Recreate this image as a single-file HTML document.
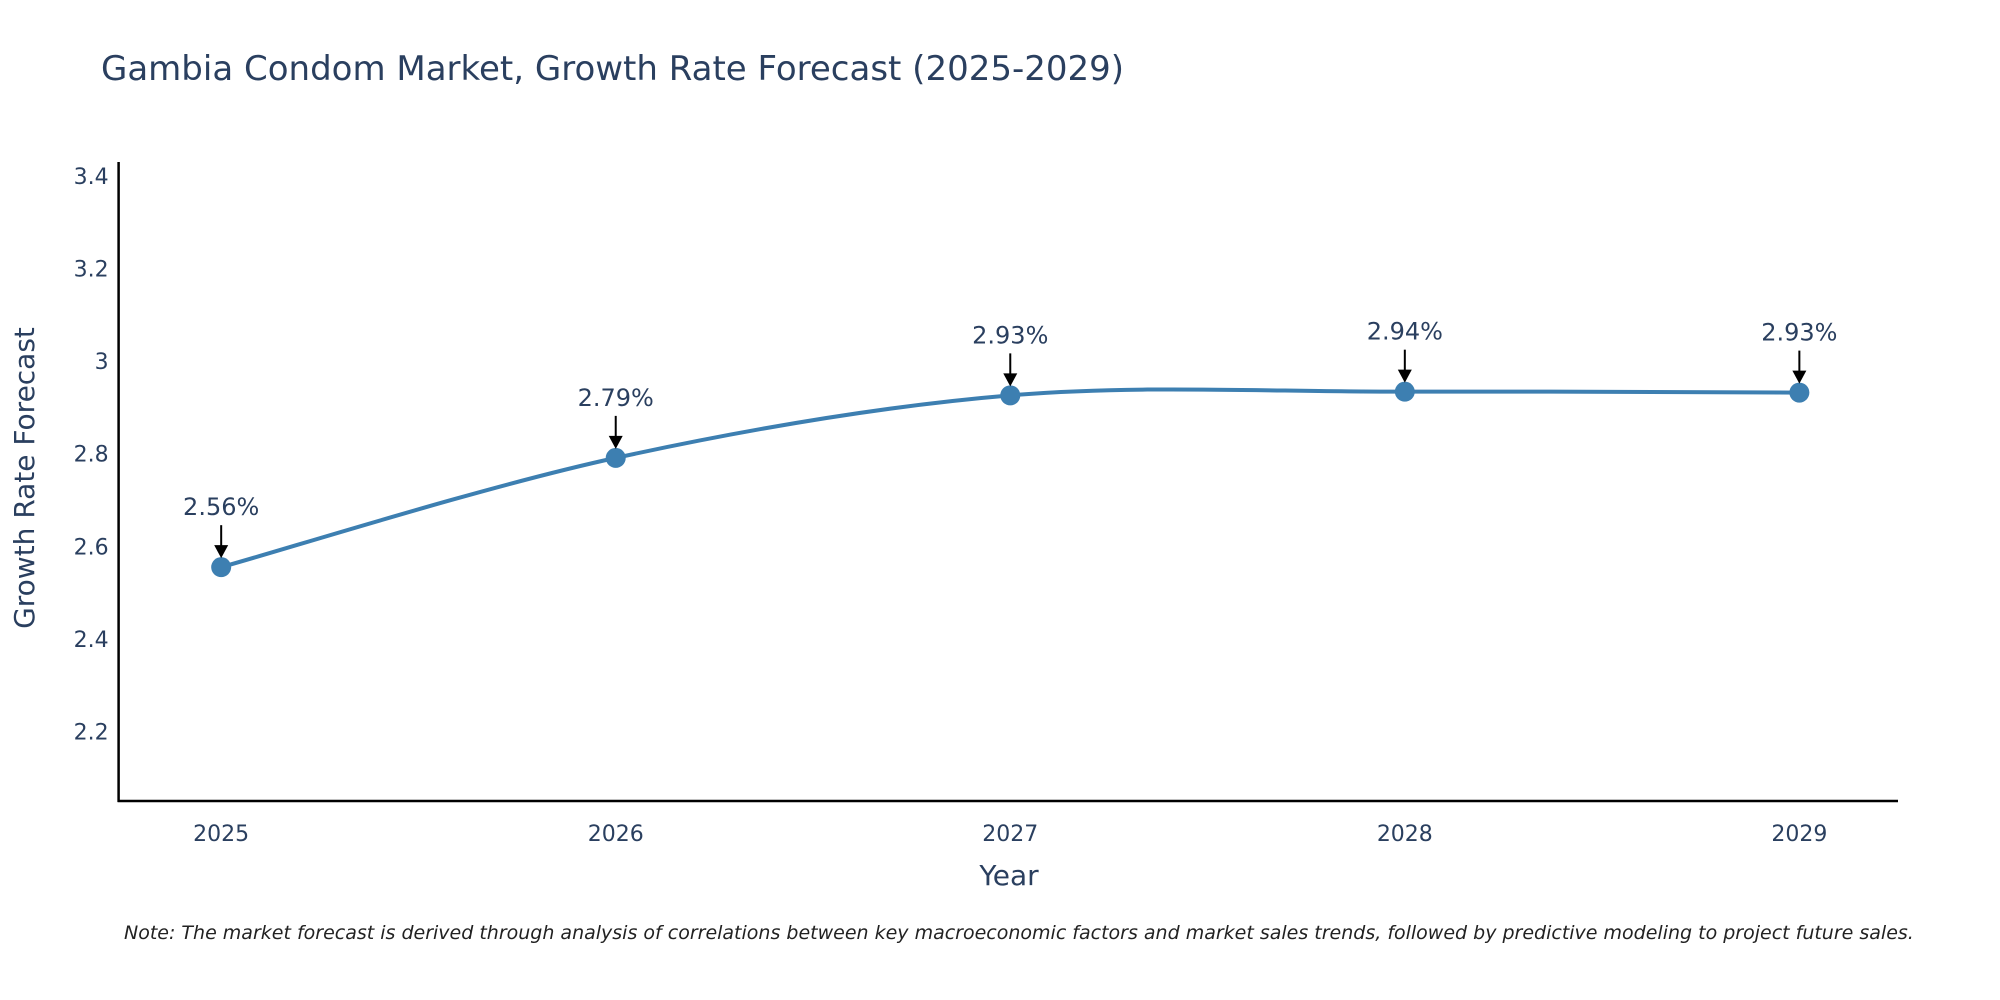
<!DOCTYPE html>
<html><head><meta charset="utf-8"><style>
body{margin:0;background:#fff;}
svg{display:block;font-family:"DejaVu Sans","Liberation Sans",sans-serif;}
</style></head><body>
<svg id="chart" width="2000" height="1000" viewBox="0 0 2000 1000" xmlns="http://www.w3.org/2000/svg">
<text x="101" y="80" font-size="34" fill="#2a3f5f">Gambia Condom Market, Growth Rate Forecast (2025-2029)</text>
<g id="axes"></g>
<g id="series"></g>
<text transform="translate(34,478) rotate(-90)" text-anchor="middle" font-size="28" fill="#2a3f5f">Growth Rate Forecast</text>
<text x="1009" y="885" text-anchor="middle" font-size="28" fill="#2a3f5f">Year</text>
<text x="124" y="939" font-size="19" font-style="italic" fill="#222">Note: The market forecast is derived through analysis of correlations between key macroeconomic factors and market sales trends, followed by predictive modeling to project future sales.</text>
</svg>
<script>
const years = [2025, 2026, 2027, 2028, 2029];
const growth = [2.555, 2.791, 2.926, 2.934, 2.932];
const labels = ["2.56%", "2.79%", "2.93%", "2.94%", "2.93%"];
const yTicks = [2.2, 2.4, 2.6, 2.8, 3, 3.2, 3.4];
const yTickLabels = ["2.2", "2.4", "2.6", "2.8", "3", "3.2", "3.4"];

const NS = "http://www.w3.org/2000/svg";
const L = 118.6, R = 1898, T = 162, B = 801;
const xMin = 2024.74, xMax = 2029.25, yMin = 2.05, yMax = 3.43;
const xs = v => L + (v - xMin) / (xMax - xMin) * (R - L);
const ys = v => B - (v - yMin) / (yMax - yMin) * (B - T);
function mk(tag, attrs, parent) {
  const e = document.createElementNS(NS, tag);
  for (const k in attrs) e.setAttribute(k, attrs[k]);
  parent.appendChild(e); return e;
}
const axes = document.getElementById('axes');
const series = document.getElementById('series');
const yl = mk('line', {x1: L, y1: T, x2: L, y2: B + 1, stroke: '#000', 'stroke-width': 2.5}, axes);


const xl = mk('line', {x1: L - 1, y1: B, x2: R, y2: B, stroke: '#000', 'stroke-width': 2.5}, axes);


yTicks.forEach((t, i) => {
  const e = mk('text', {x: L - 10, y: ys(t) + 8, 'text-anchor': 'end', 'font-size': 22, fill: '#2a3f5f'}, axes);
  e.textContent = yTickLabels[i];
  
  
});
years.forEach(y => {
  const e = mk('text', {x: xs(y), y: B + 40, 'text-anchor': 'middle', 'font-size': 22, fill: '#2a3f5f'}, axes);
  e.textContent = String(y);
  
  
});
const pts = years.map((y, i) => [xs(y), ys(growth[i])]);
let d = `M${pts[0][0]},${pts[0][1]}`;
for (let i = 0; i < pts.length - 1; i++) {
  const p0 = pts[Math.max(0, i - 1)], p1 = pts[i], p2 = pts[i + 1], p3 = pts[Math.min(pts.length - 1, i + 2)];
  const k = 1 / 6;
  const c1 = [p1[0] + (p2[0] - p0[0]) * k, p1[1] + (p2[1] - p0[1]) * k];
  const c2 = [p2[0] - (p3[0] - p1[0]) * k, p2[1] - (p3[1] - p1[1]) * k];
  d += ` C${c1[0]},${c1[1]} ${c2[0]},${c2[1]} ${p2[0]},${p2[1]}`;
}
const line = mk('path', {d: d, fill: 'none', stroke: '#3d7fb1', 'stroke-width': 4}, series);


pts.forEach((p, i) => {
  const c = mk('circle', {cx: p[0], cy: p[1], r: 10, fill: '#3d7fb1'}, series);
  
  
  const a = mk('line', {x1: p[0], y1: p[1] - 42, x2: p[0], y2: p[1] - 20, stroke: '#000', 'stroke-width': 2}, series);
  
  
  const h = mk('polygon', {points: `${p[0] - 7},${p[1] - 22} ${p[0] + 7},${p[1] - 22} ${p[0]},${p[1] - 9}`, fill: '#000'}, series);
  
  
  const t = mk('text', {x: p[0], y: p[1] - 52, 'text-anchor': 'middle', 'font-size': 24, fill: '#2a3f5f'}, series);
  t.textContent = labels[i];
  
  
});
</script>
</body></html>
